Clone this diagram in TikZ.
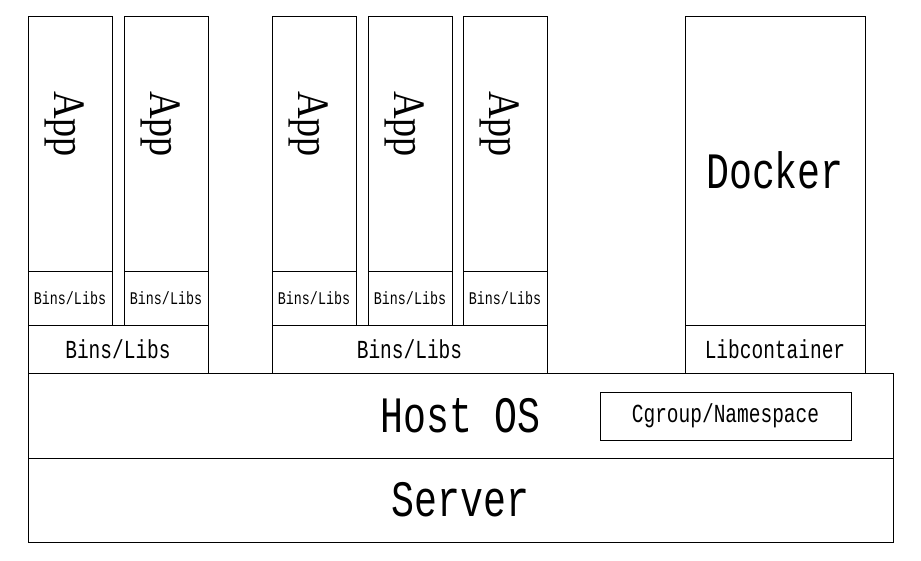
\documentclass[tikz,border=0pt]{standalone}
\usepackage{fontspec}
\newfontfamily\monofont[FakeStretch=0.75]{Liberation Mono}
\newfontfamily\appfont[FakeStretch=0.85]{Liberation Serif}
\begin{document}
\begin{tikzpicture}[
        x=1pt, y=-1pt,
        layer/.style={draw, line width=0.8pt, inner sep=0pt},
        bigtext/.style={font=\monofont\fontsize{51pt}{53pt}\selectfont},
        midtext/.style={font=\monofont\fontsize{26pt}{28pt}\selectfont},
        smalltext/.style={font=\monofont\fontsize{17.8pt}{19pt}\selectfont},
        apptext/.style={font=\appfont\fontsize{45pt}{47pt}\selectfont, rotate=-90, inner sep=0pt}
    ]
        \useasboundingbox (0, 0) rectangle (921, 561);
        % left group
        \node[layer, minimum width=84, minimum height=255] (app1) at (70, 143.5) {};
        \node[apptext] (applabel1) at (65, 124) {App};
        \node[layer, smalltext, minimum width=84, minimum height=54] (libs1) at (70, 298) {Bins/Libs};
        \node[layer, minimum width=84, minimum height=255] (app2) at (166, 143.5) {};
        \node[apptext] (applabel2) at (161, 124) {App};
        \node[layer, smalltext, minimum width=84, minimum height=54] (libs2) at (166, 298) {Bins/Libs};
        \node[layer, midtext, minimum width=180, minimum height=48] (leftlibs) at (118, 349) {Bins/Libs};
        % middle group
        \node[layer, minimum width=84, minimum height=255] (app3) at (314, 143.5) {};
        \node[apptext] (applabel3) at (309, 124) {App};
        \node[layer, smalltext, minimum width=84, minimum height=54] (libs3) at (314, 298) {Bins/Libs};
        \node[layer, minimum width=84, minimum height=255] (app4) at (410, 143.5) {};
        \node[apptext] (applabel4) at (405, 124) {App};
        \node[layer, smalltext, minimum width=84, minimum height=54] (libs4) at (410, 298) {Bins/Libs};
        \node[layer, minimum width=84, minimum height=255] (app5) at (505, 143.5) {};
        \node[apptext] (applabel5) at (500, 124) {App};
        \node[layer, smalltext, minimum width=84, minimum height=54] (libs5) at (505, 298) {Bins/Libs};
        \node[layer, midtext, minimum width=275, minimum height=48] (midlibs) at (409.5, 349) {Bins/Libs};
        % docker
        \node[layer, bigtext, minimum width=180, minimum height=309] (docker) at (775, 170.5) {Docker};
        \node[layer, midtext, minimum width=180, minimum height=48] (libcontainer) at (775, 349) {Libcontainer};
        % host and server
        \node[layer, bigtext, minimum width=865, minimum height=85] (host) at (460.5, 415.5) {Host OS};
        \node[layer, midtext, minimum width=251, minimum height=48] (cgroup) at (725.5, 416) {Cgroup/Namespace};
        \node[layer, bigtext, minimum width=865, minimum height=84] (server) at (460.5, 500) {Server};
    \end{tikzpicture}
\end{document}
